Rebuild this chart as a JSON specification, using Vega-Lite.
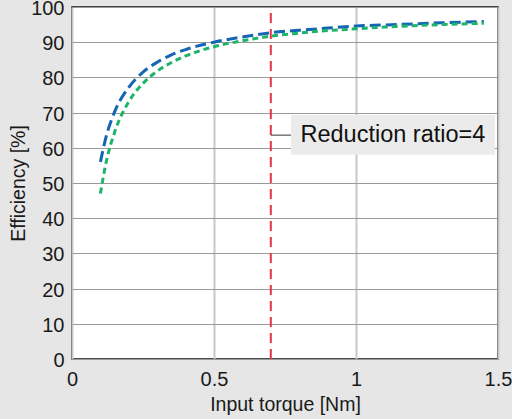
{
  "$schema": "https://vega.github.io/schema/vega-lite/v6.json",
  "width": 426,
  "height": 352,
  "autosize": {"type": "none"},
  "padding": {"left": 72, "top": 7, "right": 14, "bottom": 60},
  "background": "#e6e6e6",
  "config": {
    "view": {"stroke": "#111111", "strokeWidth": 1.5, "fill": "white"},
    "font": "Liberation Sans",
    "axis": {"labelFont": "Liberation Sans", "titleFont": "Liberation Sans", "labelColor": "#1a1a1a", "titleColor": "#1a1a1a", "titleFontWeight": "normal", "domain": false, "ticks": false, "labelOverlap": false}
  },
  "datasets": {
    "curves": [
      {"series": "A", "torque": 0.1, "eff": 56.0},
      {"series": "A", "torque": 0.12, "eff": 63.1},
      {"series": "A", "torque": 0.15, "eff": 70.2},
      {"series": "A", "torque": 0.2, "eff": 77.2},
      {"series": "A", "torque": 0.25, "eff": 81.5},
      {"series": "A", "torque": 0.3, "eff": 84.3},
      {"series": "A", "torque": 0.35, "eff": 86.4},
      {"series": "A", "torque": 0.4, "eff": 87.9},
      {"series": "A", "torque": 0.5, "eff": 90.0},
      {"series": "A", "torque": 0.6, "eff": 91.5},
      {"series": "A", "torque": 0.7, "eff": 92.7},
      {"series": "A", "torque": 0.8, "eff": 93.4},
      {"series": "A", "torque": 0.9, "eff": 94.0},
      {"series": "A", "torque": 1.0, "eff": 94.6},
      {"series": "A", "torque": 1.1, "eff": 94.9},
      {"series": "A", "torque": 1.2, "eff": 95.2},
      {"series": "A", "torque": 1.3, "eff": 95.5},
      {"series": "A", "torque": 1.45, "eff": 95.9},
      {"series": "B", "torque": 0.1, "eff": 47.0},
      {"series": "B", "torque": 0.12, "eff": 55.8},
      {"series": "B", "torque": 0.15, "eff": 64.4},
      {"series": "B", "torque": 0.2, "eff": 73.1},
      {"series": "B", "torque": 0.25, "eff": 78.3},
      {"series": "B", "torque": 0.3, "eff": 81.8},
      {"series": "B", "torque": 0.35, "eff": 84.2},
      {"series": "B", "torque": 0.4, "eff": 86.1},
      {"series": "B", "torque": 0.5, "eff": 88.7},
      {"series": "B", "torque": 0.6, "eff": 90.4},
      {"series": "B", "torque": 0.7, "eff": 91.7},
      {"series": "B", "torque": 0.8, "eff": 92.6},
      {"series": "B", "torque": 0.9, "eff": 93.3},
      {"series": "B", "torque": 1.0, "eff": 93.8},
      {"series": "B", "torque": 1.1, "eff": 94.3},
      {"series": "B", "torque": 1.2, "eff": 94.7},
      {"series": "B", "torque": 1.3, "eff": 95.0},
      {"series": "B", "torque": 1.45, "eff": 95.4}
    ],
    "marker": [{"torque": 0.7, "y0": 0, "y1": 100}],
    "note": [{"x0": 0.771, "x1": 1.489, "y0": 58.0, "y1": 69.3, "xl0": 0.7, "xl1": 0.771, "ym": 63.6, "xc": 1.13, "label": "Reduction ratio=4"}]
  },
  "encoding": {
    "x": {"type": "quantitative", "scale": {"domain": [0, 1.5], "nice": false},
      "axis": {"values": [0, 0.5, 1, 1.5], "format": "~g", "title": "Input torque [Nm]", "labelFontSize": 20, "titleFontSize": 19.5, "labelPadding": 10, "titlePadding": 6, "gridColor": "#c8c8c8", "gridWidth": 2, "labelFlush": false}},
    "y": {"type": "quantitative", "scale": {"domain": [0, 100], "nice": false},
      "axis": {"values": [0, 10, 20, 30, 40, 50, 60, 70, 80, 90, 100], "tickCount": 11, "title": "Efficiency [%]", "labelFontSize": 20, "titleFontSize": 19.5, "labelPadding": 8, "labelOffset": 1.5, "titlePadding": 2, "gridColor": "#9a9a9a", "gridWidth": 1.2}}
  },
  "layer": [
    {
      "data": {"name": "curves"},
      "mark": {"type": "line", "strokeWidth": 3, "interpolate": "monotone"},
      "encoding": {
        "x": {"field": "torque"},
        "y": {"field": "eff"},
        "color": {"field": "series", "type": "nominal", "scale": {"domain": ["A", "B"], "range": ["#1565b5", "#1db36b"]}, "legend": null},
        "strokeDash": {"field": "series", "type": "nominal", "scale": {"domain": ["A", "B"], "range": [[11, 5], [6, 4]]}, "legend": null}
      }
    },
    {
      "data": {"name": "marker"},
      "mark": {"type": "rule", "color": "#e8334a", "strokeWidth": 2, "strokeDash": [10, 6]},
      "encoding": {
        "x": {"field": "torque"},
        "y": {"field": "y0"},
        "y2": {"field": "y1"}
      }
    },
    {
      "data": {"name": "note"},
      "mark": {"type": "rule", "color": "#333333", "strokeWidth": 1},
      "encoding": {
        "x": {"field": "xl0"},
        "x2": {"field": "xl1"},
        "y": {"field": "ym"}
      }
    },
    {
      "data": {"name": "note"},
      "mark": {"type": "rect", "fill": "#ebebeb", "stroke": null},
      "encoding": {
        "x": {"field": "x0"},
        "x2": {"field": "x1"},
        "y": {"field": "y0"},
        "y2": {"field": "y1"}
      }
    },
    {
      "data": {"name": "note"},
      "mark": {"type": "text", "fontSize": 23.5, "font": "Liberation Sans", "color": "#111111", "align": "center", "baseline": "middle"},
      "encoding": {
        "x": {"field": "xc"},
        "y": {"field": "ym"},
        "text": {"field": "label"}
      }
    }
  ]
}
